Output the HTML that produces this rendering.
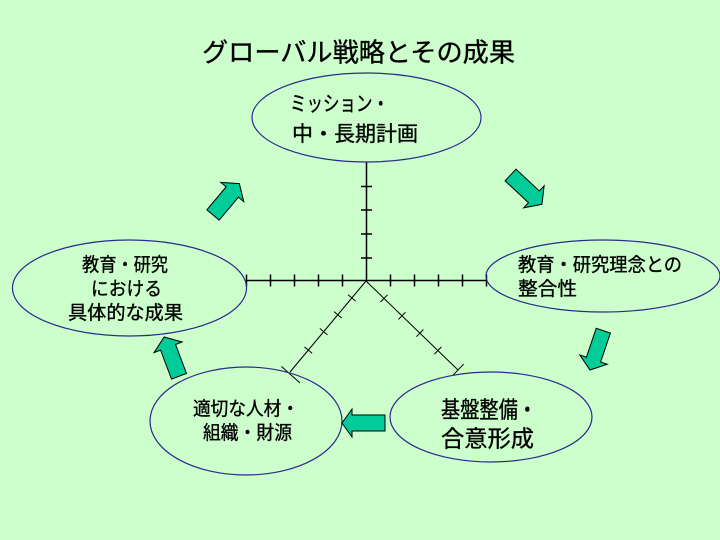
<!DOCTYPE html>
<html>
<head>
<meta charset="utf-8">
<style>
  html, body { margin:0; padding:0; background:#ccffcc; }
  svg { display:block; }
  text { font-family: "Liberation Sans", "Noto Sans CJK JP", sans-serif; fill:#000; stroke:#000; stroke-width:0.35; }
</style>
</head>
<body>
<svg width="720" height="540" viewBox="0 0 720 540" xmlns="http://www.w3.org/2000/svg">
  <rect x="0" y="0" width="720" height="540" fill="#ccffcc"/>

  <!-- Title -->
  <text x="202" y="61.5" font-size="26" textLength="313" lengthAdjust="spacingAndGlyphs">グローバル戦略とその成果</text>

  <!-- Axes -->
  <g stroke="#000" stroke-width="1.5" fill="none">
    <line x1="366.5" y1="162" x2="366.5" y2="281"/>
    <line x1="246" y1="280.5" x2="487" y2="280.5"/>
    <line x1="361" y1="186.5" x2="372" y2="186.5"/>
    <line x1="361" y1="210" x2="372" y2="210"/>
    <line x1="361" y1="234" x2="372" y2="234"/>
    <line x1="361" y1="258" x2="372" y2="258"/>
    <line x1="246.5" y1="274.5" x2="246.5" y2="286.5"/>
    <line x1="270.5" y1="274.5" x2="270.5" y2="286.5"/>
    <line x1="294.5" y1="274.5" x2="294.5" y2="286.5"/>
    <line x1="318.5" y1="274.5" x2="318.5" y2="286.5"/>
    <line x1="342.5" y1="274.5" x2="342.5" y2="286.5"/>
    <line x1="390.5" y1="274.5" x2="390.5" y2="286.5"/>
    <line x1="414.5" y1="274.5" x2="414.5" y2="286.5"/>
    <line x1="438.5" y1="274.5" x2="438.5" y2="286.5"/>
    <line x1="462.5" y1="274.5" x2="462.5" y2="286.5"/>
    <line x1="486.5" y1="274.5" x2="486.5" y2="286.5"/>
  </g>
  <g stroke="#000" stroke-width="1" fill="none">
    <line x1="366" y1="281" x2="290" y2="372"/>
    <line x1="355.7" y1="301.1" x2="348.1" y2="294.7"/>
    <line x1="341.6" y1="318.0" x2="334.0" y2="311.6"/>
    <line x1="327.5" y1="334.9" x2="319.9" y2="328.5"/>
    <line x1="312.1" y1="353.3" x2="304.5" y2="346.9"/>
    <line x1="300" y1="383" x2="281.5" y2="366.5"/>
    <line x1="366" y1="281" x2="458" y2="370"/>
    <line x1="387.5" y1="294.8" x2="380.5" y2="302.0"/>
    <line x1="405.5" y1="312.2" x2="398.5" y2="319.4"/>
    <line x1="423.4" y1="329.5" x2="416.4" y2="336.7"/>
    <line x1="441.4" y1="346.9" x2="434.4" y2="354.1"/>
    <line x1="463.6" y1="364.2" x2="452.4" y2="375.8"/>
  </g>

  <!-- Ellipses -->
  <g stroke="#2b2b8a" stroke-width="1.2" fill="none">
    <ellipse cx="366.5" cy="117.5" rx="114.5" ry="44.5"/>
    <ellipse cx="129.5" cy="288" rx="117" ry="48"/>
    <ellipse cx="603" cy="276" rx="117" ry="36"/>
    <ellipse cx="491" cy="417" rx="101" ry="45"/>
    <ellipse cx="246" cy="421" rx="96" ry="54"/>
  </g>

  <!-- Arrows -->
  <g fill="#00cc99" stroke="#000" stroke-width="1" stroke-linejoin="miter">
    <polygon transform="translate(213,215) rotate(-50)" points="0,-8 30,-8 30,-15 41,0 30,15 30,8 0,8"/>
    <polygon transform="translate(510.5,175) rotate(43)" points="0,-8 32,-8 32,-15 43,0 32,15 32,8 0,8"/>
    <polygon transform="translate(603.3,330.7) rotate(108.7)" points="0,-7.5 30.5,-7.5 30.5,-14.5 41.5,0 30.5,14.5 30.5,7.5 0,7.5"/>
    <polygon transform="translate(385,423) rotate(180)" points="0,-8 33,-8 33,-14 43,0 33,14 33,8 0,8"/>
    <polygon transform="translate(179,376.3) rotate(-110.7)" points="0,-8 31,-8 31,-15 42,0 31,15 31,8 0,8"/>
  </g>

  <!-- Top ellipse text -->
  <text x="290" y="111" font-size="21" textLength="99" lengthAdjust="spacingAndGlyphs">ミッション・</text>
  <text x="292" y="141" font-size="21" textLength="126" lengthAdjust="spacingAndGlyphs">中・長期計画</text>

  <!-- Left ellipse text -->
  <text x="82" y="271.2" font-size="19" textLength="86" lengthAdjust="spacingAndGlyphs">教育・研究</text>
  <text x="91" y="295.2" font-size="19" textLength="71" lengthAdjust="spacingAndGlyphs">における</text>
  <text x="68" y="319.2" font-size="19" textLength="115" lengthAdjust="spacingAndGlyphs">具体的な成果</text>

  <!-- Right ellipse text -->
  <text x="518" y="271.2" font-size="19" textLength="164" lengthAdjust="spacingAndGlyphs">教育・研究理念との</text>
  <text x="518" y="295.2" font-size="19" textLength="59" lengthAdjust="spacingAndGlyphs">整合性</text>

  <!-- Bottom-right ellipse text -->
  <text x="441" y="417.7" font-size="23" textLength="96" lengthAdjust="spacingAndGlyphs">基盤整備・</text>
  <text x="441" y="446.7" font-size="23" textLength="93" lengthAdjust="spacingAndGlyphs">合意形成</text>

  <!-- Bottom-left ellipse text -->
  <text x="193" y="415.2" font-size="19" textLength="106" lengthAdjust="spacingAndGlyphs">適切な人材・</text>
  <text x="203" y="439.2" font-size="19" textLength="89" lengthAdjust="spacingAndGlyphs">組織・財源</text>
</svg>
</body>
</html>
